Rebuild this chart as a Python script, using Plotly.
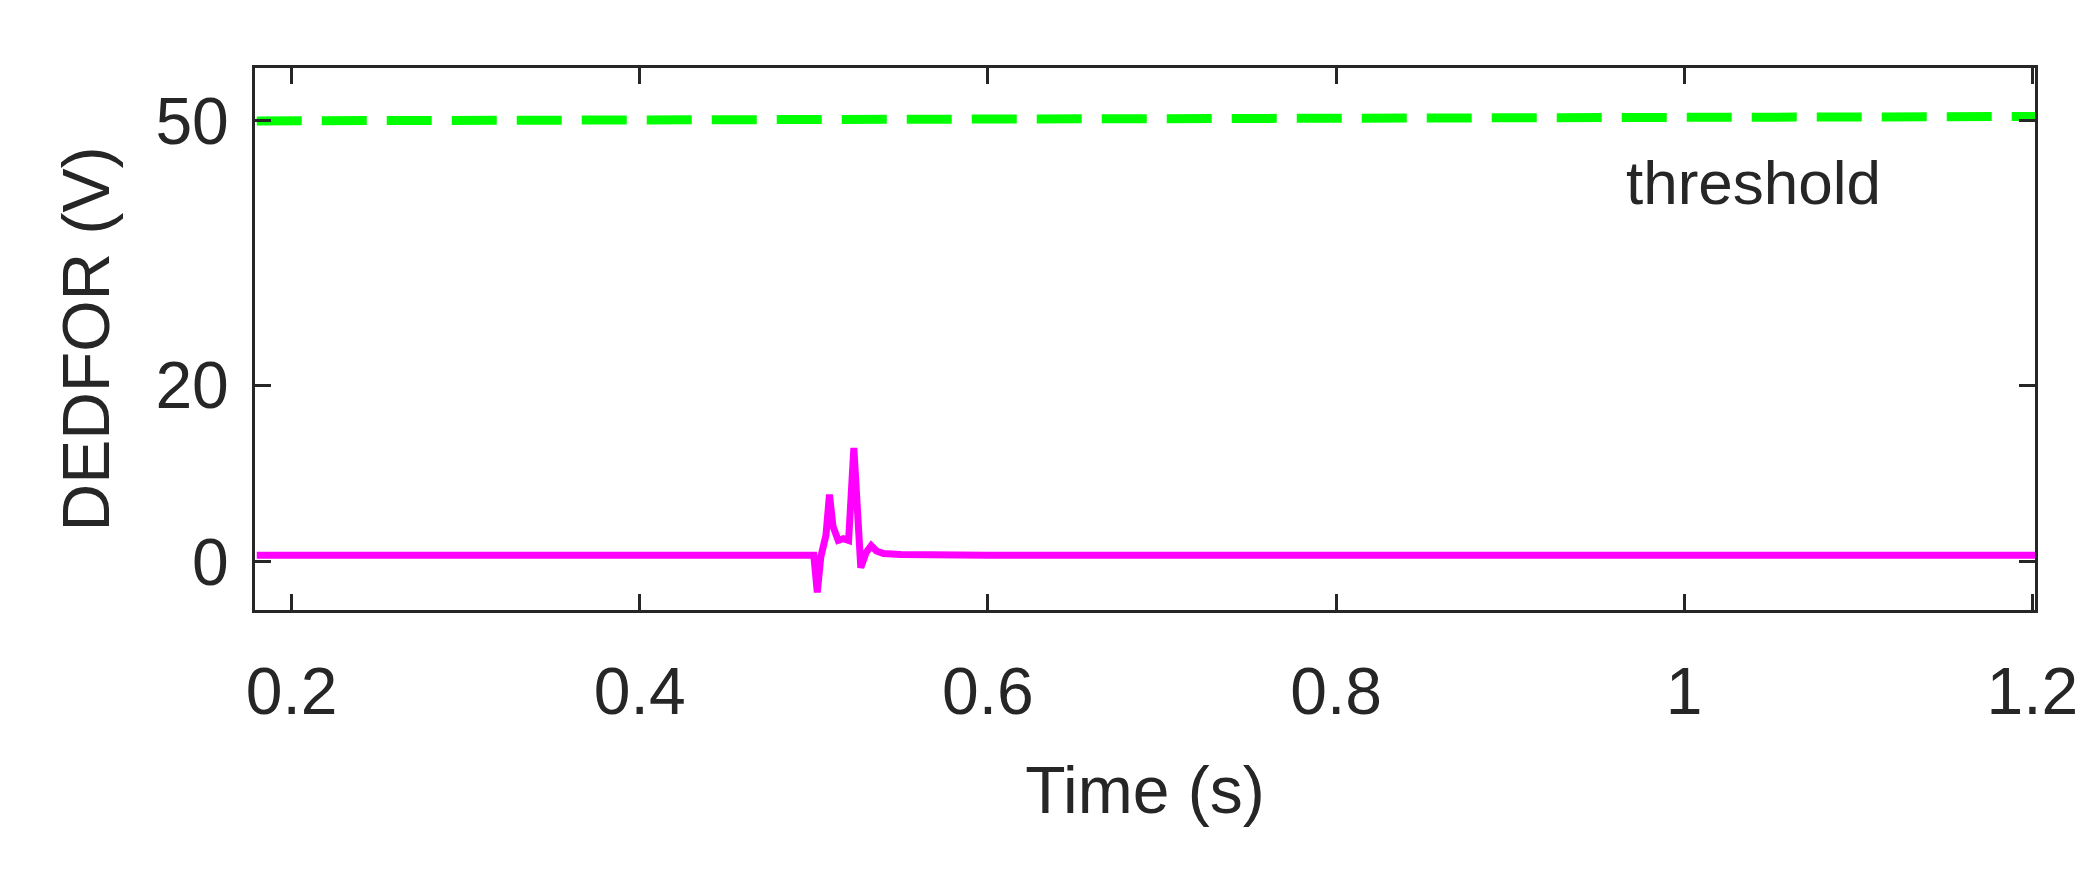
import plotly.graph_objects as go

t = [0.18, 0.49, 0.500, 0.502, 0.504, 0.507, 0.509, 0.511, 0.514, 0.517, 0.520, 0.523, 0.525, 0.527, 0.530, 0.533, 0.536, 0.540, 0.55, 0.6, 0.8, 1.0, 1.21]
v = [0.7, 0.7, 0.7, -3.5, 0.5, 3.0, 7.6, 4.0, 2.4, 2.6, 2.4, 12.9, 5.0, -0.7, 1.0, 1.8, 1.2, 0.9, 0.8, 0.7, 0.7, 0.7, 0.7]
thr_t = [0.18, 1.21]
thr_v = [50.0, 50.5]
xticks = [0.2, 0.4, 0.6, 0.8, 1.0, 1.2]
xlabels = ["0.2", "0.4", "0.6", "0.8", "1", "1.2"]
yticks = [0, 20, 50]

fig = go.Figure()
fig.add_trace(go.Scatter(x=thr_t, y=thr_v, mode="lines", line=dict(color="#00ff00", width=9, dash="45px,20px"), showlegend=False))
fig.add_trace(go.Scatter(x=t, y=v, mode="lines", line=dict(color="#ff00ff", width=7), showlegend=False))
fig.add_annotation(x=1.04, y=43, text="threshold", showarrow=False, font=dict(size=62, color="#262626"))

ax = dict(showline=True, linecolor="#262626", linewidth=3, mirror="ticks", ticks="inside",
          ticklen=16, tickwidth=3, tickcolor="#262626", showgrid=False, zeroline=False,
          tickfont=dict(size=66, color="#262626"))
fig.update_xaxes(range=[0.179, 1.2015], tickvals=xticks, ticktext=xlabels, ticklabelstandoff=22,
                 title=dict(text="Time (s)", font=dict(size=66, color="#262626"), standoff=40), **ax)
fig.update_yaxes(range=[-5.5, 56], tickvals=yticks, ticklabelstandoff=10,
                 title=dict(text="DEDFOR (V)", font=dict(size=66, color="#262626"), standoff=25), **ax)
fig.update_layout(width=2091, height=888, plot_bgcolor="white", paper_bgcolor="white",
                  font=dict(family="Liberation Sans"),
                  margin=dict(l=247, r=64, t=60, b=286))
fig.write_html("out.html")
